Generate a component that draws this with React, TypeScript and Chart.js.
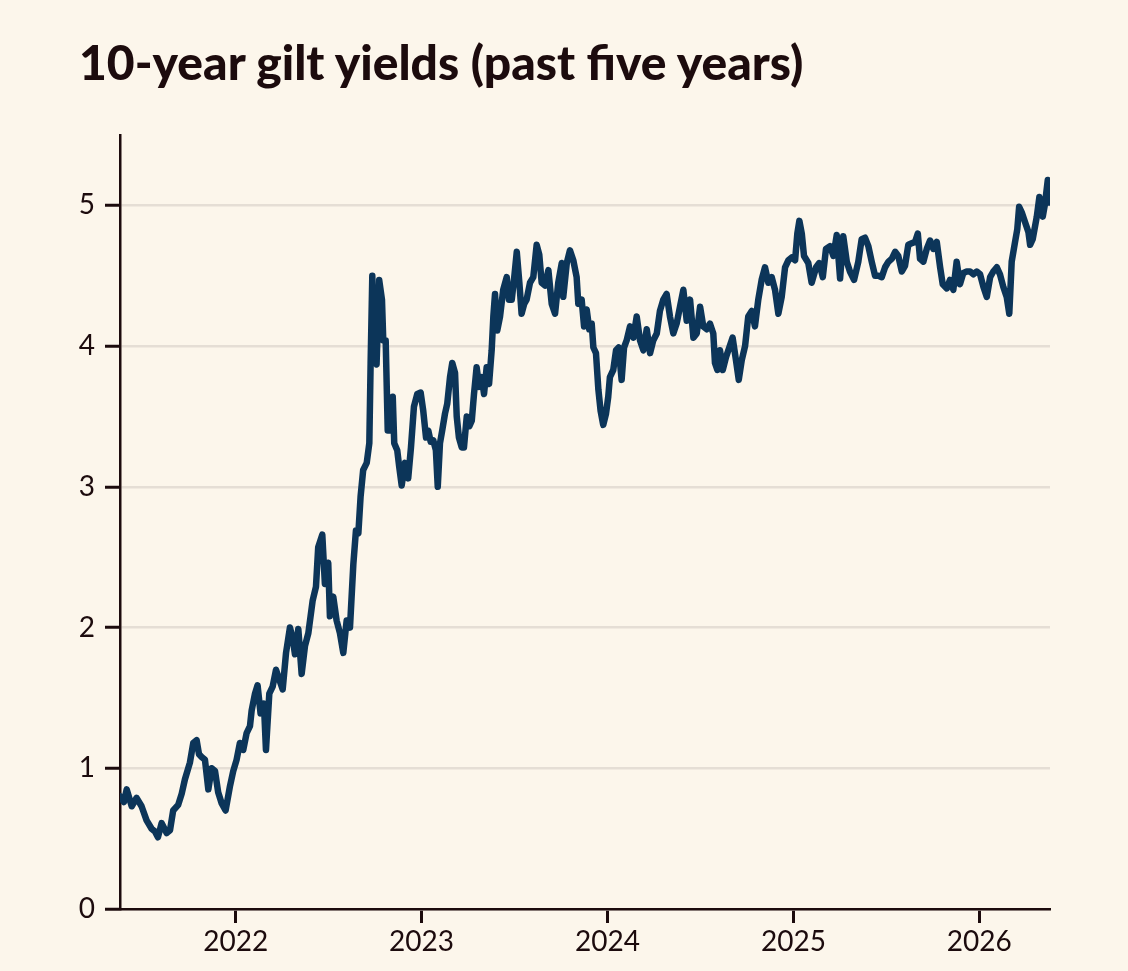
import React, { useEffect, useRef } from "react";
import { Chart, registerables } from "chart.js";

Chart.register(...registerables);

const TITLE = "10-year gilt yields (past five years)";

const BG = "#FCF6EB";
const INK = "#1C0B0D";
const GRID = "#E5DED5";
const LINE = "#0C3559";

const X_MIN = 2021.378;
const X_MAX = 2026.38;
const Y_MIN = 0;
const Y_MAX = 5.5;
const X_TICKS = [2022, 2023, 2024, 2025, 2026];
const Y_TICKS = [0, 1, 2, 3, 4, 5];

// dates as decimal years, yields in %
const dates2021 = [2021.380, 2021.399, 2021.414, 2021.441, 2021.467, 2021.494, 2021.521, 2021.548, 2021.566, 2021.582, 2021.602, 2021.629, 2021.647, 2021.664, 2021.691, 2021.710, 2021.727, 2021.754, 2021.772, 2021.790, 2021.803, 2021.817, 2021.835, 2021.853, 2021.871, 2021.889, 2021.906, 2021.925, 2021.946, 2021.969, 2021.987];
const yields2021 = [0.80, 0.76, 0.85, 0.73, 0.79, 0.73, 0.63, 0.57, 0.55, 0.51, 0.61, 0.54, 0.56, 0.70, 0.74, 0.82, 0.92, 1.04, 1.18, 1.20, 1.10, 1.08, 1.06, 0.85, 1.00, 0.98, 0.83, 0.75, 0.70, 0.87, 0.98];

const dates2022 = [2022.005, 2022.023, 2022.041, 2022.059, 2022.077, 2022.086, 2022.104, 2022.118, 2022.134, 2022.152, 2022.163, 2022.181, 2022.199, 2022.217, 2022.235, 2022.253, 2022.271, 2022.292, 2022.307, 2022.319, 2022.337, 2022.355, 2022.373, 2022.391, 2022.414, 2022.432, 2022.444, 2022.466, 2022.480, 2022.498, 2022.507, 2022.525, 2022.543, 2022.561, 2022.579, 2022.597, 2022.615, 2022.633, 2022.647, 2022.660, 2022.672, 2022.686, 2022.705, 2022.719, 2022.726, 2022.735, 2022.746, 2022.758, 2022.772, 2022.787, 2022.794, 2022.807, 2022.818, 2022.830, 2022.845, 2022.853, 2022.869, 2022.880, 2022.893, 2022.911, 2022.928, 2022.943, 2022.959, 2022.977, 2022.995];
const yields2022 = [1.06, 1.18, 1.13, 1.25, 1.30, 1.41, 1.53, 1.59, 1.39, 1.46, 1.13, 1.53, 1.58, 1.70, 1.63, 1.56, 1.82, 2.00, 1.92, 1.81, 1.99, 1.67, 1.87, 1.96, 2.19, 2.29, 2.57, 2.66, 2.31, 2.46, 2.08, 2.22, 2.05, 1.96, 1.82, 2.05, 2.00, 2.45, 2.69, 2.67, 2.93, 3.12, 3.17, 3.31, 3.88, 4.50, 3.90, 3.87, 4.47, 4.33, 4.04, 4.04, 3.40, 3.40, 3.64, 3.31, 3.26, 3.14, 3.01, 3.17, 3.06, 3.28, 3.57, 3.66, 3.67];

const dates2023 = [2023.009, 2023.024, 2023.036, 2023.049, 2023.063, 2023.077, 2023.087, 2023.099, 2023.111, 2023.126, 2023.138, 2023.153, 2023.165, 2023.180, 2023.189, 2023.201, 2023.216, 2023.228, 2023.243, 2023.257, 2023.270, 2023.282, 2023.296, 2023.310, 2023.323, 2023.336, 2023.350, 2023.363, 2023.377, 2023.386, 2023.395, 2023.407, 2023.422, 2023.439, 2023.458, 2023.470, 2023.485, 2023.497, 2023.512, 2023.526, 2023.538, 2023.552, 2023.565, 2023.583, 2023.601, 2023.619, 2023.633, 2023.646, 2023.664, 2023.682, 2023.700, 2023.718, 2023.735, 2023.754, 2023.762, 2023.781, 2023.798, 2023.816, 2023.834, 2023.843, 2023.861, 2023.874, 2023.888, 2023.902, 2023.915, 2023.924, 2023.938, 2023.951, 2023.963, 2023.977, 2023.992];
const yields2023 = [3.54, 3.35, 3.40, 3.32, 3.33, 3.26, 3.00, 3.31, 3.40, 3.52, 3.59, 3.78, 3.88, 3.81, 3.50, 3.35, 3.28, 3.28, 3.50, 3.43, 3.47, 3.66, 3.85, 3.71, 3.78, 3.66, 3.85, 3.73, 3.97, 4.21, 4.37, 4.11, 4.21, 4.40, 4.49, 4.33, 4.33, 4.47, 4.67, 4.45, 4.23, 4.30, 4.33, 4.45, 4.49, 4.72, 4.65, 4.45, 4.43, 4.54, 4.30, 4.23, 4.45, 4.59, 4.35, 4.59, 4.68, 4.61, 4.49, 4.30, 4.33, 4.14, 4.26, 4.12, 4.16, 3.99, 3.95, 3.69, 3.54, 3.44, 3.52];

const dates2024 = [2024.004, 2024.013, 2024.031, 2024.046, 2024.060, 2024.076, 2024.089, 2024.103, 2024.121, 2024.139, 2024.157, 2024.175, 2024.193, 2024.211, 2024.229, 2024.246, 2024.265, 2024.282, 2024.300, 2024.318, 2024.336, 2024.354, 2024.372, 2024.390, 2024.408, 2024.426, 2024.444, 2024.462, 2024.480, 2024.498, 2024.515, 2024.534, 2024.551, 2024.569, 2024.578, 2024.591, 2024.605, 2024.620, 2024.637, 2024.655, 2024.673, 2024.691, 2024.706, 2024.722, 2024.740, 2024.757, 2024.776, 2024.793, 2024.811, 2024.829, 2024.847, 2024.865, 2024.883, 2024.901, 2024.919, 2024.937, 2024.955, 2024.973, 2024.991];
const yields2024 = [3.64, 3.78, 3.83, 3.97, 3.99, 3.76, 3.99, 4.04, 4.14, 4.06, 4.21, 4.04, 3.97, 4.12, 3.95, 4.04, 4.09, 4.25, 4.33, 4.37, 4.21, 4.09, 4.16, 4.28, 4.40, 4.18, 4.33, 4.06, 4.09, 4.28, 4.14, 4.12, 4.16, 4.09, 3.88, 3.83, 3.97, 3.83, 3.92, 3.99, 4.06, 3.90, 3.76, 3.90, 4.00, 4.21, 4.25, 4.14, 4.33, 4.47, 4.56, 4.45, 4.49, 4.40, 4.23, 4.35, 4.56, 4.61, 4.63];

const dates2025 = [2025.009, 2025.021, 2025.032, 2025.045, 2025.057, 2025.080, 2025.098, 2025.122, 2025.139, 2025.158, 2025.175, 2025.197, 2025.215, 2025.233, 2025.251, 2025.268, 2025.287, 2025.304, 2025.326, 2025.349, 2025.367, 2025.385, 2025.403, 2025.421, 2025.439, 2025.457, 2025.475, 2025.493, 2025.511, 2025.529, 2025.547, 2025.564, 2025.583, 2025.600, 2025.618, 2025.636, 2025.654, 2025.669, 2025.681, 2025.699, 2025.717, 2025.735, 2025.753, 2025.771, 2025.789, 2025.803, 2025.825, 2025.842, 2025.860, 2025.878, 2025.896, 2025.914, 2025.932, 2025.950, 2025.968, 2025.986];
const yields2025 = [4.61, 4.80, 4.89, 4.80, 4.64, 4.59, 4.45, 4.56, 4.59, 4.49, 4.69, 4.71, 4.64, 4.79, 4.48, 4.78, 4.60, 4.53, 4.47, 4.60, 4.76, 4.77, 4.71, 4.60, 4.50, 4.50, 4.49, 4.56, 4.60, 4.62, 4.67, 4.64, 4.53, 4.57, 4.72, 4.73, 4.74, 4.80, 4.62, 4.60, 4.69, 4.75, 4.69, 4.74, 4.56, 4.44, 4.41, 4.47, 4.40, 4.60, 4.44, 4.52, 4.53, 4.53, 4.51, 4.53];

const dates2026 = [2026.004, 2026.022, 2026.040, 2026.058, 2026.075, 2026.094, 2026.111, 2026.129, 2026.147, 2026.161, 2026.174, 2026.192, 2026.204, 2026.214, 2026.228, 2026.246, 2026.264, 2026.273, 2026.287, 2026.309, 2026.323, 2026.341, 2026.353, 2026.368, 2026.377];
const yields2026 = [4.51, 4.42, 4.35, 4.49, 4.53, 4.56, 4.51, 4.42, 4.35, 4.23, 4.60, 4.74, 4.83, 4.99, 4.95, 4.88, 4.81, 4.72, 4.76, 4.92, 5.06, 4.92, 5.01, 5.18, 5.02];

const allDates = [...dates2021, ...dates2022, ...dates2023, ...dates2024, ...dates2025, ...dates2026];
const allYields = [...yields2021, ...yields2022, ...yields2023, ...yields2024, ...yields2025, ...yields2026];

const FONT = "Lato, 'Noto Sans', sans-serif";

export default function App() {
  const canvasRef = useRef<HTMLCanvasElement | null>(null);

  useEffect(() => {
    if (!canvasRef.current) return;
    const points = allDates.map((d, i) => ({ x: d, y: allYields[i] }));
    const chart = new Chart(canvasRef.current, {
      type: "line",
      data: {
        datasets: [
          {
            data: points,
            borderColor: LINE,
            borderWidth: 6.5,
            pointRadius: 0,
            tension: 0,
            borderJoinStyle: "round",
            borderCapStyle: "round",
          },
        ],
      },
      options: {
        animation: false,
        responsive: true,
        maintainAspectRatio: false,
        layout: { padding: { top: 135, right: 78, bottom: 0, left: 0 } },
        plugins: {
          legend: { display: false },
          tooltip: { enabled: false },
          title: { display: false },
        },
        scales: {
          x: {
            type: "linear",
            min: X_MIN,
            max: X_MAX,
            afterBuildTicks: (s: any) => {
              s.ticks = X_TICKS.map((value) => ({ value }));
            },
            afterFit: (s: any) => {
              s.height = 62;
            },
            grid: {
              drawOnChartArea: false,
              drawTicks: true,
              tickLength: 14,
              tickWidth: 3,
              tickColor: INK,
            },
            border: { display: true, color: INK, width: 2.5 },
            ticks: {
              color: INK,
              padding: 2,
              maxRotation: 0,
              autoSkip: false,
              font: { family: FONT, size: 28 },
              callback: (v: any) => String(v),
            },
          },
          y: {
            type: "linear",
            min: Y_MIN,
            max: Y_MAX,
            afterBuildTicks: (s: any) => {
              s.ticks = Y_TICKS.map((value) => ({ value }));
            },
            afterFit: (s: any) => {
              s.width = 120;
            },
            grid: {
              color: GRID,
              lineWidth: 2.5,
              drawTicks: true,
              tickLength: 15,
              tickWidth: 3,
              tickColor: INK,
            },
            border: { display: true, color: INK, width: 2.5 },
            ticks: {
              color: INK,
              padding: 10,
              font: { family: FONT, size: 28 },
              callback: (v: any) => String(v),
            },
          },
        },
      },
    });
    return () => chart.destroy();
  }, []);

  return (
    <div style={{ position: "fixed", inset: 0, background: BG, overflow: "hidden" }}>
      <div style={{ position: "absolute", left: 0, top: 0, width: 1128, height: 971 }}>
        <canvas ref={canvasRef} />
      </div>
      <div
        style={{
          position: "absolute",
          left: 79,
          top: 38,
          fontFamily: FONT,
          fontWeight: 900,
          fontSize: 48,
          lineHeight: 1,
          color: INK,
          whiteSpace: "nowrap",
        }}
      >
        {TITLE}
      </div>
    </div>
  );
}
